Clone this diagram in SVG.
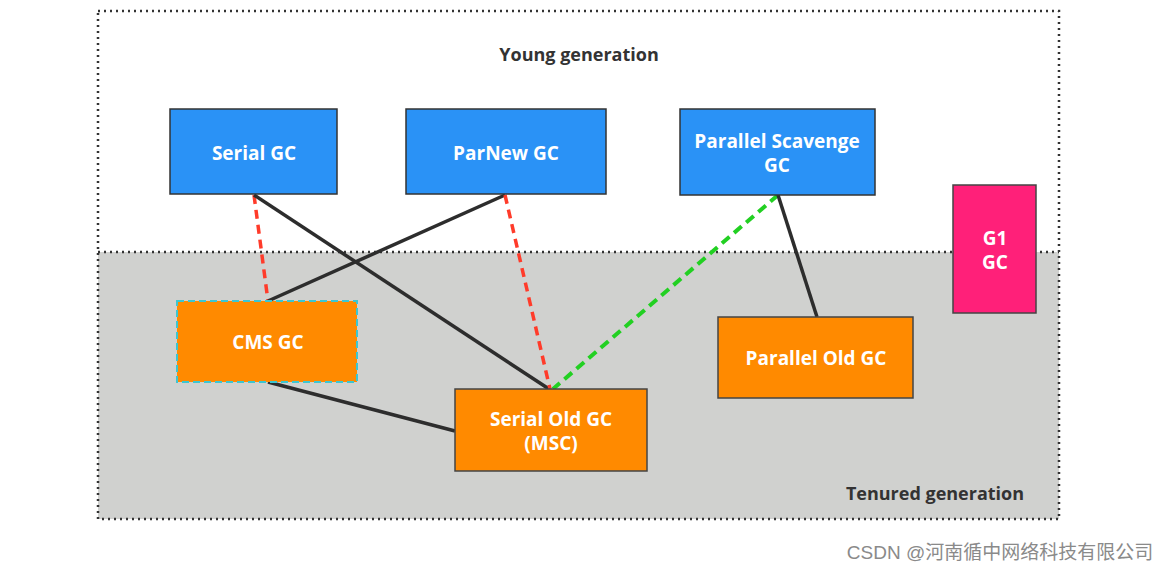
<svg xmlns="http://www.w3.org/2000/svg" width="1169" height="572" viewBox="0 0 1169 572">
<style>
text{font-family:"Open Sans","Noto Sans","Liberation Sans",sans-serif;font-weight:bold;text-anchor:middle}
.n text{fill:#ffffff;font-size:19px}
.blue{fill:#2a92f6;stroke:#333;stroke-width:1.5}
.orange{fill:#ff8a00;stroke:#444;stroke-width:1.5}
.pink{fill:#ff2079;stroke:#444;stroke-width:1.5}
.solid{stroke:#2d2d2d;stroke-width:3.5;fill:none}
.red{stroke:#ff3b2a;stroke-width:3.5;stroke-dasharray:9,6;fill:none}
.green{stroke:#22d022;stroke-width:4;stroke-dasharray:10,6;fill:none}
.lab{fill:#333;font-size:18px}
</style>
<rect x="0" y="0" width="1169" height="572" fill="#ffffff"/>
<rect x="98" y="252" width="961" height="267" fill="#d0d1cf"/>
<rect x="98" y="11" width="961" height="508" fill="none" stroke="#333" stroke-width="2.5" stroke-dasharray="2,4"/>
<line x1="98" y1="252" x2="1059" y2="252" stroke="#333" stroke-width="2.5" stroke-dasharray="2,4"/>
<text class="lab" x="579" y="61">Young generation</text>
<text class="lab" x="935" y="500">Tenured generation</text>
<g id="connectors">
<line class="red" x1="254" y1="195" x2="268" y2="301"/>
<line class="solid" x1="254" y1="195" x2="549" y2="389"/>
<line class="solid" x1="505" y1="195" x2="268" y2="301"/>
<line class="red" x1="505" y1="195" x2="550" y2="389"/>
<line class="green" x1="778" y1="195" x2="553" y2="389"/>
<line class="solid" x1="778" y1="195" x2="817" y2="317"/>
<line class="solid" x1="268" y1="382" x2="455" y2="431"/>
</g>
<g id="serial" class="n"><rect class="blue" x="170" y="109" width="167" height="85"/><text x="254" y="160">Serial GC</text></g>
<g id="parnew" class="n"><rect class="blue" x="406" y="109" width="200" height="85"/><text x="506" y="160">ParNew GC</text></g>
<g id="pscavenge" class="n"><rect class="blue" x="680" y="109" width="195" height="86"/><text x="777" y="148">Parallel Scavenge</text><text x="777" y="172">GC</text></g>
<g id="g1" class="n"><rect class="pink" x="953" y="185" width="83" height="128"/><text x="995" y="245">G1</text><text x="995" y="269">GC</text></g>
<g id="cms" class="n"><rect x="177" y="301" width="180" height="81" fill="#ff8a00" stroke="#3cc6d0" stroke-width="2" stroke-dasharray="7,4"/><text x="268" y="349">CMS GC</text></g>
<g id="serialold" class="n"><rect class="orange" x="455" y="389" width="192" height="82"/><text x="551" y="426">Serial Old GC</text><text x="551" y="450">(MSC)</text></g>
<g id="parold" class="n"><rect class="orange" x="718" y="317" width="195" height="81"/><text x="816" y="365">Parallel Old GC</text></g>
<text x="1000" y="559" style="font-family:'Liberation Sans','Noto Sans CJK SC',sans-serif;font-weight:normal;font-size:19px;fill:#8a8a8a">CSDN @河南循中网络科技有限公司</text>
</svg>
